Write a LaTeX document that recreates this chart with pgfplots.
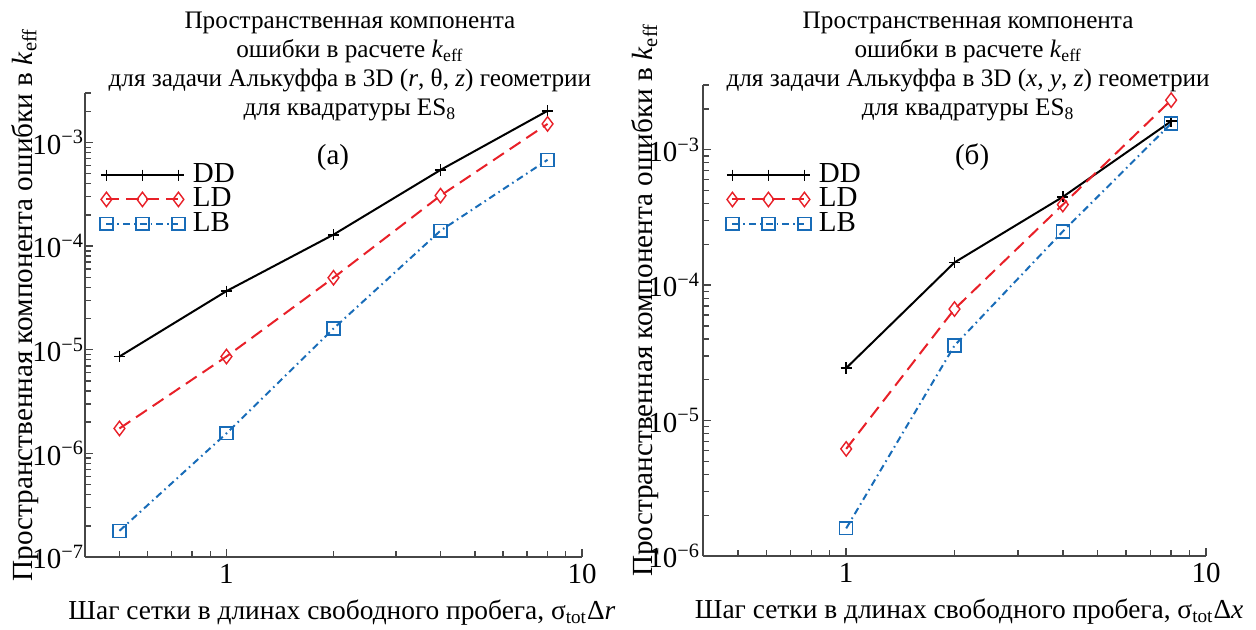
\documentclass[border=0pt]{standalone}
\usepackage{pgfplots}
\pgfplotsset{compat=1.18}
\usepackage{fontspec}
\setmainfont{Liberation Serif}
\definecolor{myred}{RGB}{232,32,40}
\definecolor{myblue}{RGB}{24,108,184}
\definecolor{axisgray}{RGB}{70,70,70}
\newcommand{\fst}{\fontsize{12.6}{14.5}\selectfont}
\newcommand{\fsl}{\fontsize{14.6}{16}\selectfont}
\newcommand{\fsx}{\fontsize{13.7}{15}\selectfont}
\newcommand{\fsk}{\fontsize{14.5}{16}\selectfont}
\newcommand{\fsg}{\fontsize{14.5}{14.5}\selectfont}
\begin{document}
\begin{tikzpicture}
\useasboundingbox (0,0) rectangle (628pt,314.5pt);
% ---------- left panel ----------
\begin{axis}[
  scale only axis,
  xmode=log, ymode=log,
  xmin=0.4, xmax=10,
  ymin=1e-7, ymax=3e-3,
  at={(42.5pt,36pt)}, anchor=south west,
  width=248.5pt, height=232pt,
  axis x line=bottom, axis y line=left,
  axis line style={-, axisgray, line width=0.8pt},
  every tick/.style={axisgray, line width=0.7pt},
  major tick length=4pt, minor tick length=3pt,
  tick align=inside,
  xtick={1,10}, xticklabels={1,10},
  minor xtick={0.5,0.6,0.7,0.8,0.9,2,3,4,5,6,7,8,9},
  ytick={1e-7,1e-6,1e-5,1e-4,1e-3},
  yticklabels={10\textsuperscript{−7},10\textsuperscript{−6},10\textsuperscript{−5},10\textsuperscript{−4},10\textsuperscript{−3}},
  minor ytick={2e-7,3e-7,4e-7,5e-7,6e-7,7e-7,8e-7,9e-7,2e-6,3e-6,4e-6,5e-6,6e-6,7e-6,8e-6,9e-6,2e-5,3e-5,4e-5,5e-5,6e-5,7e-5,8e-5,9e-5,2e-4,3e-4,4e-4,5e-4,6e-4,7e-4,8e-4,9e-4,2e-3,3e-3},
  xticklabel style={font=\fsk},
  yticklabel style={font=\fsk, xshift=3pt},
  clip=false,
  legend image code/.code={\draw[mark repeat=1,mark phase=1,#1] plot coordinates {(0pt,0pt) (18pt,0pt) (36pt,0pt)};},
  legend style={draw=none, fill=none, font=\fsg, inner sep=0pt, nodes={inner sep=0pt, text height=9.5pt, text depth=2pt}, row sep=0.6pt, column sep=4pt, anchor=north west, at={(rel axis cs:0.0295,0.8485)}},
  legend cell align=left,
  xlabel={Шаг сетки в длинах свободного пробега, σ\textsubscript{tot}Δ\textit{r}},
  every axis x label/.style={at={(rel axis cs:0.517,0)}, anchor=mid, yshift=-29pt, font=\fsx},
  ylabel={Пространственная компонента ошибки в \textit{k}\textsubscript{eff}},
  every axis y label/.style={at={(rel axis cs:-0.1066,0.543)}, rotate=90, anchor=base, font=\fsl},
]
\addplot[black, solid, line width=1pt, mark=+, mark size=2.8pt, mark options={solid, line width=0.9pt}]
  coordinates {(0.5,8.6e-6) (1,3.68e-5) (2,1.29e-4) (4,5.43e-4) (8,2.02e-3)};
\addlegendentry{DD}
\addplot[myred, line width=1pt, dash pattern=on 6.5pt off 3.5pt, mark=diamond, mark size=3.6pt, mark options={solid, line width=0.7pt}]
  coordinates {(0.5,1.74e-6) (1,8.6e-6) (2,4.95e-5) (4,3.07e-4) (8,1.51e-3)};
\addlegendentry{LD}
\addplot[myblue, line width=1pt, dash pattern=on 3.5pt off 2pt on 0.8pt off 2pt, mark=square, mark size=3.2pt, mark options={solid, line width=0.7pt}]
  coordinates {(0.5,1.79e-7) (1,1.56e-6) (2,1.6e-5) (4,1.41e-4) (8,6.8e-4)};
\addlegendentry{LB}
\node[font=\fsk] at (rel axis cs:0.499,0.862) {(а)};
\node[font=\fst, align=center, anchor=center] at (rel axis cs:0.533,1.057)
  {Пространственная компонента\\ошибки в расчете \textit{k}\textsubscript{eff}\\для задачи Алькуффа в 3D (\textit{r}, θ, \textit{z}) геометрии\\для квадратуры ES\textsubscript{8}};
\end{axis}
% ---------- right panel ----------
\begin{axis}[
  scale only axis,
  xmode=log, ymode=log,
  xmin=0.4, xmax=10,
  ymin=1e-6, ymax=3e-3,
  at={(351.5pt,36.5pt)}, anchor=south west,
  width=251.5pt, height=235.5pt,
  axis x line=bottom, axis y line=left,
  axis line style={-, axisgray, line width=0.8pt},
  every tick/.style={axisgray, line width=0.7pt},
  major tick length=4pt, minor tick length=3pt,
  tick align=inside,
  xtick={1,10}, xticklabels={1,10},
  minor xtick={0.5,0.6,0.7,0.8,0.9,2,3,4,5,6,7,8,9},
  ytick={1e-6,1e-5,1e-4,1e-3},
  yticklabels={10\textsuperscript{−6},10\textsuperscript{−5},10\textsuperscript{−4},10\textsuperscript{−3}},
  minor ytick={2e-6,3e-6,4e-6,5e-6,6e-6,7e-6,8e-6,9e-6,2e-5,3e-5,4e-5,5e-5,6e-5,7e-5,8e-5,9e-5,2e-4,3e-4,4e-4,5e-4,6e-4,7e-4,8e-4,9e-4,2e-3,3e-3},
  xticklabel style={font=\fsk},
  yticklabel style={font=\fsk, xshift=2pt},
  clip=false,
  legend image code/.code={\draw[mark repeat=1,mark phase=1,#1] plot coordinates {(0pt,0pt) (18pt,0pt) (36pt,0pt)};},
  legend style={draw=none, fill=none, font=\fsg, inner sep=0pt, nodes={inner sep=0pt, text height=9.5pt, text depth=2pt}, row sep=0.6pt, column sep=4pt, anchor=north west, at={(rel axis cs:0.045,0.8336)}},
  legend cell align=left,
  xlabel={Шаг сетки в длинах свободного пробега, σ\textsubscript{tot}Δ\textit{x}},
  every axis x label/.style={at={(rel axis cs:0.529,0)}, anchor=mid, yshift=-29pt, font=\fsx},
  ylabel={Пространственная компонента ошибки в \textit{k}\textsubscript{eff}},
  every axis y label/.style={at={(rel axis cs:-0.10,0.543)}, rotate=90, anchor=base, font=\fsl},
]
\addplot[black, solid, line width=1pt, mark=+, mark size=2.8pt, mark options={solid, line width=0.9pt}]
  coordinates {(1,2.44e-5) (2,1.47e-4) (4,4.48e-4) (8,1.62e-3)};
\addlegendentry{DD}
\addplot[myred, line width=1pt, dash pattern=on 6.5pt off 3.5pt, mark=diamond, mark size=3.6pt, mark options={solid, line width=0.7pt}]
  coordinates {(1,6.18e-6) (2,6.65e-5) (4,3.93e-4) (8,2.32e-3)};
\addlegendentry{LD}
\addplot[myblue, line width=1pt, dash pattern=on 3.5pt off 2pt on 0.8pt off 2pt, mark=square, mark size=3.2pt, mark options={solid, line width=0.7pt}]
  coordinates {(1,1.6e-6) (2,3.58e-5) (4,2.49e-4) (8,1.56e-3)};
\addlegendentry{LB}
\node[font=\fsk] at (rel axis cs:0.535,0.847) {(б)};
\node[font=\fst, align=center, anchor=center] at (rel axis cs:0.527,1.0392)
  {Пространственная компонента\\ошибки в расчете \textit{k}\textsubscript{eff}\\для задачи Алькуффа в 3D (\textit{x}, \textit{y}, \textit{z}) геометрии\\для квадратуры ES\textsubscript{8}};
\end{axis}
\end{tikzpicture}
\end{document}
